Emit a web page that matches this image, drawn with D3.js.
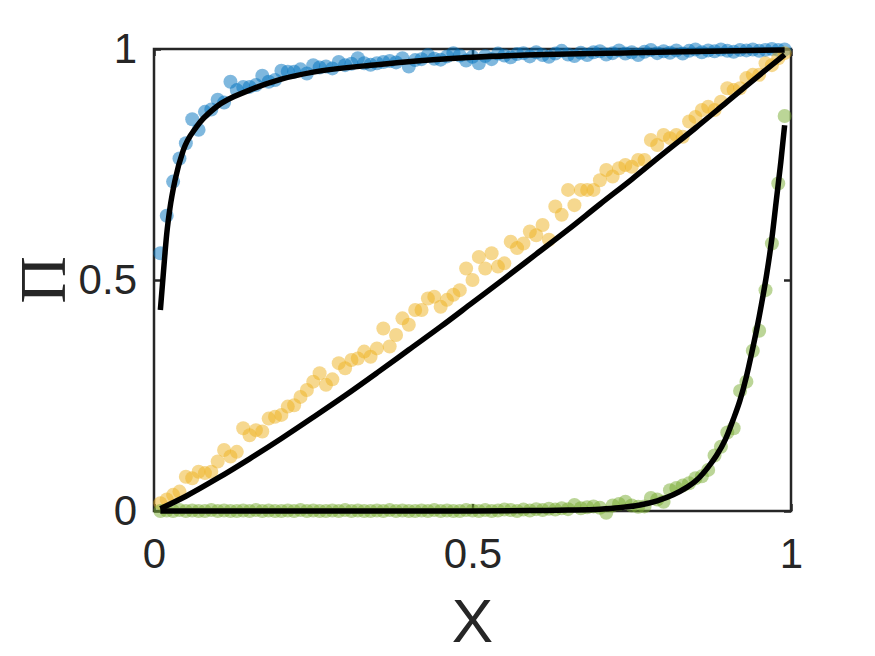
<!DOCTYPE html>
<html>
<head>
<meta charset="utf-8">
<script src="https://cdn.jsdelivr.net/npm/d3@7"></script>
<style>
  body { margin: 0; background: #fff; }
  svg { display: block; }
</style>
</head>
<body>
<svg id="chart" width="875" height="656"></svg>
<script>
// x positions of the simulated points
const xs = [0.01,0.02,0.03,0.04,0.05,0.06,0.07,0.08,0.09,0.10,
  0.11,0.12,0.13,0.14,0.15,0.16,0.17,0.18,0.19,0.20,
  0.21,0.22,0.23,0.24,0.25,0.26,0.27,0.28,0.29,0.30,
  0.31,0.32,0.33,0.34,0.35,0.36,0.37,0.38,0.39,0.40,
  0.41,0.42,0.43,0.44,0.45,0.46,0.47,0.48,0.49,0.50,
  0.51,0.52,0.53,0.54,0.55,0.56,0.57,0.58,0.59,0.60,
  0.61,0.62,0.63,0.64,0.65,0.66,0.67,0.68,0.69,0.70,
  0.71,0.72,0.73,0.74,0.75,0.76,0.77,0.78,0.79,0.80,
  0.81,0.82,0.83,0.84,0.85,0.86,0.87,0.88,0.89,0.90,
  0.91,0.92,0.93,0.94,0.95,0.96,0.97,0.98,0.99];

const blueVals = [0.558,0.639,0.713,0.763,0.796,0.848,0.825,0.864,0.869,0.890,
  0.884,0.929,0.911,0.918,0.918,0.922,0.942,0.929,0.933,0.953,
  0.951,0.951,0.956,0.947,0.965,0.960,0.962,0.958,0.972,0.965,
  0.968,0.980,0.969,0.966,0.969,0.972,0.974,0.971,0.980,0.962,
  0.976,0.978,0.987,0.979,0.977,0.984,0.991,0.986,0.975,0.983,
  0.969,0.985,0.978,0.990,0.986,0.982,0.989,0.991,0.984,0.993,
  0.987,0.983,0.990,0.996,0.988,0.985,0.992,0.987,0.993,0.995,
  0.988,0.991,0.997,0.990,0.993,0.987,0.994,0.998,0.991,0.995,
  0.992,0.997,0.990,0.996,0.999,0.993,0.997,0.995,0.999,0.996,
  0.994,0.998,0.997,0.999,0.996,0.998,1.000,0.998,0.999];

const yellowVals = [0.017,0.025,0.035,0.042,0.074,0.071,0.085,0.082,0.085,0.107,
  0.132,0.118,0.128,0.179,0.164,0.175,0.172,0.200,0.204,0.208,
  0.226,0.229,0.247,0.262,0.280,0.298,0.273,0.285,0.320,0.309,
  0.327,0.330,0.345,0.334,0.352,0.395,0.356,0.381,0.417,0.403,
  0.435,0.435,0.460,0.464,0.442,0.457,0.468,0.478,0.525,0.500,
  0.550,0.525,0.558,0.529,0.536,0.583,0.569,0.579,0.605,0.597,
  0.619,0.587,0.659,0.641,0.695,0.662,0.695,0.695,0.695,0.716,
  0.738,0.724,0.742,0.749,0.745,0.760,0.760,0.803,0.792,0.814,
  0.807,0.814,0.810,0.843,0.853,0.868,0.875,0.868,0.886,0.915,
  0.911,0.915,0.937,0.944,0.944,0.969,0.965,0.980,0.991];

const greenVals = [0.000,0.001,0.000,0.002,0.000,0.001,0.000,0.000,0.002,0.000,
  0.001,0.000,0.000,0.001,0.000,0.002,0.000,0.001,0.000,0.000,
  0.001,0.000,0.002,0.000,0.001,0.000,0.000,0.001,0.000,0.002,
  0.000,0.001,0.000,0.000,0.001,0.000,0.002,0.000,0.001,0.000,
  0.000,0.001,0.000,0.002,0.000,0.001,0.000,0.000,0.002,0.001,
  0.000,0.002,0.000,0.001,0.003,0.002,0.000,0.003,0.001,0.004,
  0.002,0.005,0.003,0.006,0.004,0.013,0.006,0.008,0.010,0.007,
  -0.004,0.012,0.015,0.020,0.012,0.009,0.010,0.028,0.025,0.020,
  0.045,0.050,0.055,0.060,0.071,0.075,0.089,0.120,0.139,0.170,
  0.179,0.260,0.280,0.347,0.390,0.478,0.579,0.709,0.855];

// fitted curves
const blueFitX = [0.010,0.015,0.020,0.025,0.033,0.046,0.067,0.098,0.150,0.200,0.250,0.350,0.500,0.750,0.990];
const blueFitY = [0.435,0.520,0.600,0.655,0.716,0.781,0.832,0.875,0.911,0.935,0.950,0.966,0.982,0.992,0.998];

const yellowFitX = [0.01,0.05,0.10,0.15,0.20,0.25,0.30,0.35,0.40,0.45,0.50,0.55,0.60,0.65,0.70,0.75,0.80,0.85,0.90,0.95,0.99];
const yellowFitY = [0.005,0.032,0.071,0.113,0.157,0.203,0.250,0.299,0.349,0.399,0.451,0.503,0.556,0.609,0.664,0.718,0.774,0.829,0.886,0.943,0.988];

const greenFitX = [0.01,0.30,0.50,0.60,0.65,0.70,0.73,0.763,0.79,0.815,0.835,0.852,0.87,0.883,0.897,0.909,0.92,0.93,0.938,0.946,0.954,0.962,0.97,0.977,0.984,0.99];
const greenFitY = [0.000,0.000,0.000,0.001,0.002,0.004,0.007,0.013,0.022,0.035,0.050,0.067,0.095,0.120,0.155,0.197,0.240,0.291,0.340,0.392,0.450,0.514,0.590,0.673,0.755,0.835];

const xTicks = [0, 0.5, 1];
const yTicks = [0, 0.5, 1];

const svg = d3.select('#chart');
const margin = {top: 49, left: 154, right: 875 - 791, bottom: 656 - 511};
const width = +svg.attr('width') - margin.left - margin.right;
const height = +svg.attr('height') - margin.top - margin.bottom;

const x = d3.scaleLinear().domain([0, 1]).range([0, width]);
const y = d3.scaleLinear().domain([0, 1]).range([height, 0]);

const g = svg.append('g').attr('transform', `translate(${margin.left},${margin.top})`);

const axisColor = '#262626';
const fmt = d => d === 0 ? '0' : d === 1 ? '1' : '0.5';

// box
g.append('rect')
    .attr('width', width).attr('height', height)
    .attr('fill', 'none').attr('stroke', axisColor).attr('stroke-width', 2.5);

// axes with inward ticks
const styleAxis = sel => {
    sel.select('.domain').remove();
    sel.selectAll('line').attr('stroke', axisColor).attr('stroke-width', 2.5);
    sel.selectAll('text')
        .attr('fill', axisColor)
        .style('font-family', 'Liberation Sans, Arial, sans-serif')
        .style('font-size', '42px');
};

g.append('g').attr('transform', `translate(0,${height})`)
    .call(d3.axisBottom(x).tickValues(xTicks).tickFormat(fmt).tickSizeInner(-7).tickSizeOuter(0).tickPadding(27))
    .call(styleAxis);
g.append('g')
    .call(d3.axisTop(x).tickValues(xTicks).tickFormat('').tickSizeInner(-7).tickSizeOuter(0))
    .call(styleAxis);
g.append('g')
    .call(d3.axisLeft(y).tickValues(yTicks).tickFormat(fmt).tickSizeInner(-7).tickSizeOuter(0).tickPadding(17))
    .call(styleAxis);
g.append('g').attr('transform', `translate(${width},0)`)
    .call(d3.axisRight(y).tickValues(yTicks).tickFormat('').tickSizeInner(-7).tickSizeOuter(0))
    .call(styleAxis);

// points
const series = [
    {vals: blueVals, color: '#0072BD'},
    {vals: yellowVals, color: '#EDB120'},
    {vals: greenVals, color: '#77AC30'}
];

series.forEach(s => {
    g.append('g').selectAll('circle')
        .data(xs.map((d, i) => [d, s.vals[i]]))
        .enter().append('circle')
            .attr('cx', d => x(d[0]))
            .attr('cy', d => y(d[1]))
            .attr('r', 7)
            .attr('fill', s.color)
            .attr('fill-opacity', 0.5);
});

// fitted lines
const line = d3.line()
    .x(d => x(d[0]))
    .y(d => y(d[1]))
    .curve(d3.curveMonotoneX);

[[blueFitX, blueFitY], [yellowFitX, yellowFitY], [greenFitX, greenFitY]].forEach(([fx, fy]) => {
    g.append('path')
        .datum(fx.map((d, i) => [d, fy[i]]))
        .attr('d', line)
        .attr('fill', 'none')
        .attr('stroke', '#000')
        .attr('stroke-width', 5.5);
});

// axis labels
svg.append('text')
    .attr('x', margin.left + width / 2)
    .attr('y', 642)
    .attr('text-anchor', 'middle')
    .attr('fill', axisColor)
    .style('font-family', 'Liberation Sans, Arial, sans-serif')
    .style('font-size', '62px')
    .text('X');

svg.append('text')
    .attr('transform', `translate(65,${margin.top + height / 2}) rotate(-90)`)
    .attr('text-anchor', 'middle')
    .attr('fill', axisColor)
    .style('font-family', 'Liberation Serif, Times New Roman, serif')
    .style('font-size', '66px')
    .text('Π');
</script>
</body>
</html>
